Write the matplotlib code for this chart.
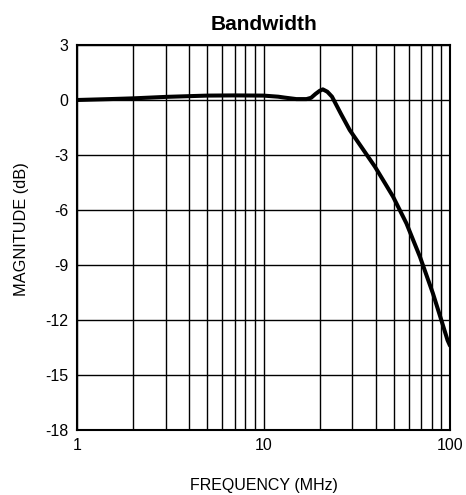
import numpy as np
import matplotlib
matplotlib.use("Agg")
import matplotlib.pyplot as plt
from matplotlib.ticker import FixedLocator, NullFormatter

plt.rcParams['font.family'] = ['Liberation Sans', 'DejaVu Sans']

# Values
freq_mhz = [1, 1.5, 2, 3, 4, 5, 7, 10, 12, 13, 15, 17, 18, 19, 20, 20.8,
            22, 23.3, 26, 29, 34, 39.6, 45, 49.5, 58.4, 65, 69, 81, 90, 97, 100]
magnitude_db = [0.0, 0.05, 0.09, 0.17, 0.21, 0.24, 0.25, 0.24, 0.18, 0.13,
                0.05, 0.05, 0.12, 0.33, 0.5, 0.58, 0.45, 0.18, -0.75, -1.64,
                -2.66, -3.64, -4.57, -5.27, -6.73, -7.9, -8.55, -10.55,
                -12.03, -13.1, -13.4]

y_ticks = [3, 0, -3, -6, -9, -12, -15, -18]
x_major = [1, 10, 100]
x_minor = [2, 3, 4, 5, 6, 7, 8, 9, 20, 30, 40, 50, 60, 70, 80, 90]

fig = plt.figure(figsize=(4.66, 4.95), dpi=100)
ax = fig.add_axes([77 / 466, 65 / 495, 373 / 466, 385 / 495])

ax.plot(freq_mhz, magnitude_db, color='black', linewidth=2.9,
        solid_capstyle='round', solid_joinstyle='round', zorder=3)

ax.set_xscale('log')
ax.set_xlim(1, 100)
ax.set_ylim(-18, 3)
ax.xaxis.set_major_locator(FixedLocator(x_major))
ax.xaxis.set_minor_locator(FixedLocator(x_minor))
ax.xaxis.set_minor_formatter(NullFormatter())
ax.set_xticks(x_major)
ax.set_xticklabels([str(v) for v in x_major])
ax.set_yticks(y_ticks)
ax.set_yticklabels([str(v) for v in y_ticks])

ax.grid(True, which='both', axis='x', color='black', linewidth=1.0)
ax.grid(True, which='major', axis='y', color='black', linewidth=1.0)
ax.tick_params(which='both', length=0, labelsize=11.5, pad=6)
for s in ax.spines.values():
    s.set_linewidth(1.5)

ax.set_title('Bandwidth', fontsize=15, fontweight='bold', pad=11)
ax.set_xlabel('FREQUENCY (MHz)', fontsize=11.5, labelpad=18)
ax.set_ylabel('MAGNITUDE (dB)', fontsize=11.8)
ax.yaxis.set_label_coords(-0.13, 0.522)

fig.savefig('out.png', dpi=100)
